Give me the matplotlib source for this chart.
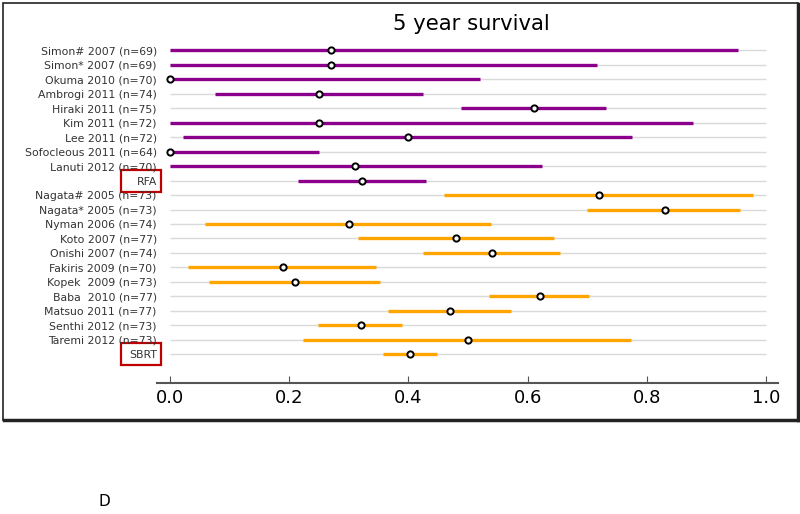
import matplotlib.pyplot as plt
import matplotlib.transforms as mtransforms
from matplotlib.patches import Rectangle
from matplotlib.lines import Line2D

studies = ['Simon# 2007 (n=69)', 'Simon* 2007 (n=69)', 'Okuma 2010 (n=70)',
           'Ambrogi 2011 (n=74)', 'Hiraki 2011 (n=75)', 'Kim 2011 (n=72)',
           'Lee 2011 (n=72)', 'Sofocleous 2011 (n=64)', 'Lanuti 2012 (n=70)',
           'RFA',
           'Nagata# 2005 (n=73)', 'Nagata* 2005 (n=73)', 'Nyman 2006 (n=74)',
           'Koto 2007 (n=77)', 'Onishi 2007 (n=74)', 'Fakiris 2009 (n=70)',
           'Kopek  2009 (n=73)', 'Baba  2010 (n=77)', 'Matsuo 2011 (n=77)',
           'Senthi 2012 (n=73)', 'Taremi 2012 (n=73)', 'SBRT']
est = [0.27, 0.27, 0.0, 0.25, 0.61, 0.25, 0.40, 0.0, 0.31, 0.322,
       0.72, 0.83, 0.30, 0.48, 0.54, 0.19, 0.21, 0.62, 0.47, 0.32, 0.50, 0.403]
lo = [0.0, 0.0, 0.0, 0.075, 0.488, 0.0, 0.022, 0.0, 0.0, 0.215,
      0.46, 0.70, 0.059, 0.315, 0.425, 0.03, 0.065, 0.535, 0.366, 0.248, 0.223, 0.357]
hi = [0.953, 0.716, 0.52, 0.425, 0.732, 0.877, 0.775, 0.25, 0.624, 0.43,
      0.978, 0.956, 0.539, 0.644, 0.654, 0.346, 0.352, 0.703, 0.572, 0.39, 0.774, 0.448]
group = ['rfa'] * 10 + ['sbrt'] * 12
colors = {'rfa': '#8b008b', 'sbrt': '#ffa500'}

fig = plt.figure(figsize=(8, 5.14), dpi=100)
ax = fig.add_axes([0.196, 0.2549, 0.7765, 0.675])

rows = list(range(len(studies)))
ax.hlines(rows, 0, 1, color='#d9d9d9', lw=1, zorder=1)
for i in rows:
    ax.plot([lo[i], hi[i]], [i, i], color=colors[group[i]], lw=2.4,
            solid_capstyle='butt', zorder=2)
ax.plot(est, rows, ls='', marker='o', ms=4.5, mfc='white', mec='black',
        mew=1.4, zorder=3)

ax.set_xlim(-0.022, 1.02)
ax.set_ylim(23, -1)
ax.set_yticks(rows)
ax.set_yticklabels(studies, fontsize=7.8, color='#333333')
ax.tick_params(axis='y', length=0, pad=0)
ax.set_xticks([0, 0.2, 0.4, 0.6, 0.8, 1.0])
ax.set_xticklabels(['0.0', '0.2', '0.4', '0.6', '0.8', '1.0'], fontsize=13)
ax.tick_params(axis='x', direction='in', length=5, color='#555555', pad=4)
for s in ['top', 'left', 'right']:
    ax.spines[s].set_visible(False)
ax.spines['bottom'].set_color('#555555')
ax.spines['bottom'].set_linewidth(1.5)
ax.set_title('5 year survival', fontsize=15.2, x=0.507, pad=4)

trans = mtransforms.blended_transform_factory(ax.transAxes, ax.transData)
for i in [9, 21]:
    ax.add_patch(Rectangle((-0.058, i - 0.76), 0.064, 1.52, transform=trans,
                           fill=False, edgecolor='#c00000', lw=1.6, clip_on=False))

# outer frame with a heavier bottom/right edge
fig.patches.append(Rectangle((3 / 800, 1 - 420 / 514), 795 / 800, 417 / 514,
                             transform=fig.transFigure, fill=False,
                             edgecolor='#222222', lw=1.2))
fig.lines.append(Line2D([4 / 800, 798 / 800], [1 - 420 / 514, 1 - 420 / 514],
                        transform=fig.transFigure, color='#222222', lw=2.5))
fig.lines.append(Line2D([798 / 800, 798 / 800], [1 - 420 / 514, 1 - 4 / 514],
                        transform=fig.transFigure, color='#222222', lw=2.5))

fig.text(0.1225, 0.016, 'D', fontsize=11)

fig.savefig('out.png', dpi=100)
